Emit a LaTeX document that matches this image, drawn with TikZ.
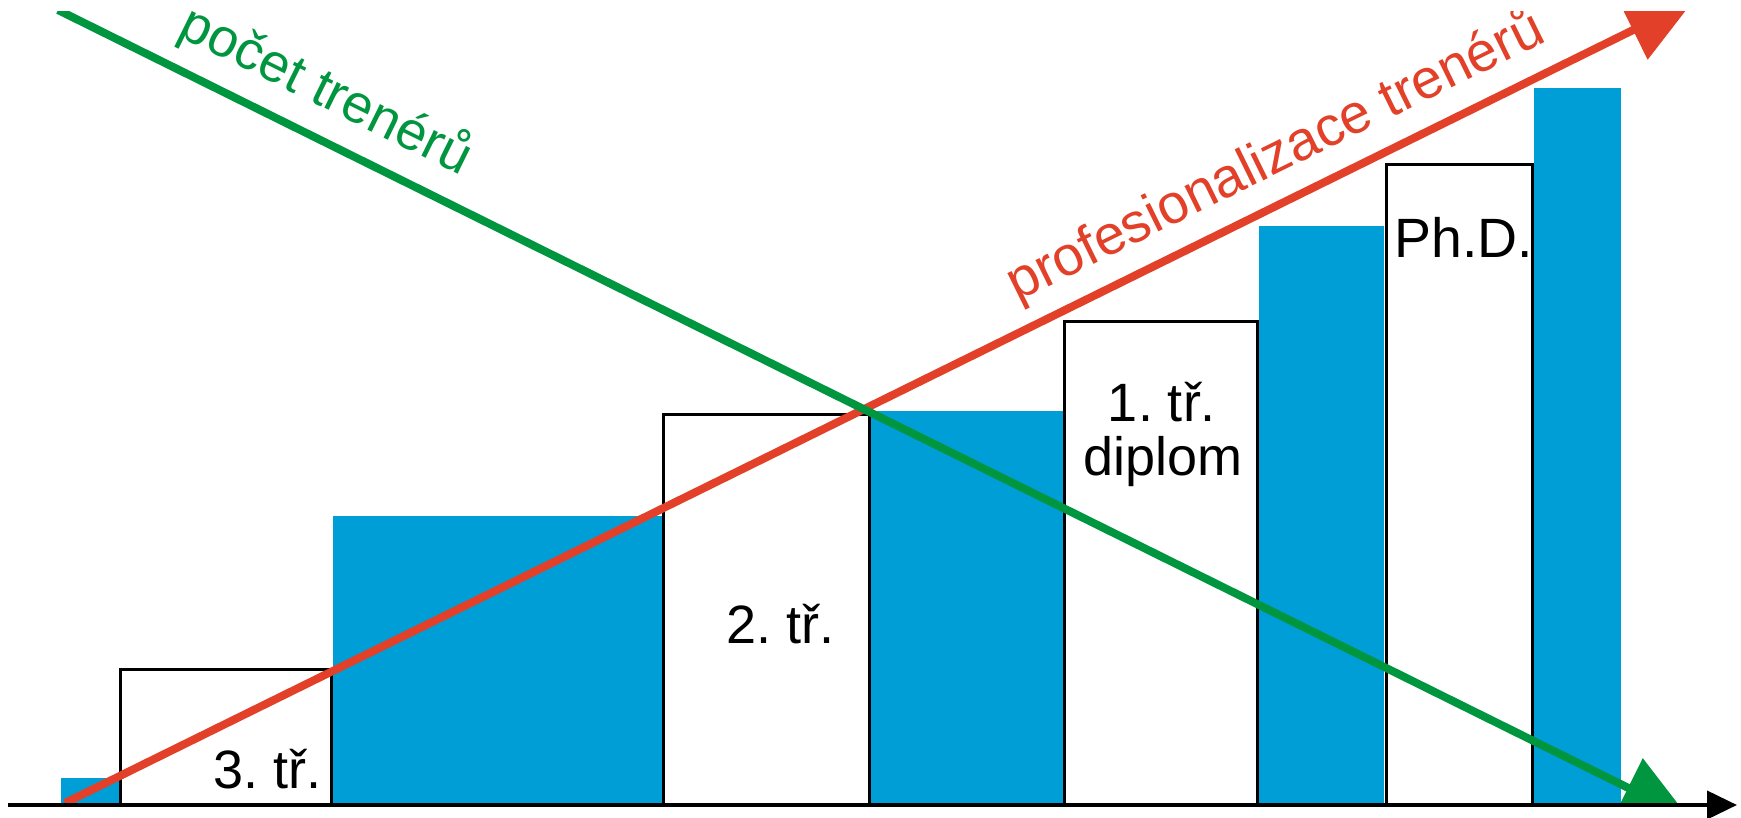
\documentclass[tikz,border=0pt]{standalone}
\usepackage{fontspec}
\setmainfont{Liberation Sans}
\usetikzlibrary{arrows.meta}
\definecolor{barblue}{RGB}{0,158,214}
\definecolor{arrred}{RGB}{226,64,40}
\definecolor{arrgreen}{RGB}{0,150,64}
\frenchspacing
\begin{document}
\begin{tikzpicture}[x=0.5pt,y=-0.5pt,
  bar/.style={fill=barblue, draw=none},
  levelbox/.style={fill=white, draw=black, line width=1.5pt},
  lbl/.style={inner sep=0pt, font=\fontsize{27}{27}\selectfont},
  biglbl/.style={inner sep=0pt, font=\fontsize{27.7}{27.7}\selectfont},
  trend/.style={line width=4pt, -{Triangle[length=34pt,width=32pt]}},
  axisline/.style={line width=2pt, -{Triangle[length=15pt,width=14pt]}}]
\useasboundingbox (0,0) rectangle (1741,818);
\fill[white] (0,0) rectangle (1741,818);
% coordinates
\coordinate (rs) at (65,803);
\coordinate (re) at (1694,0);
\coordinate (gs) at (58,10);
\coordinate (ge) at (1689,818);
\coordinate (ax0) at (8,805);
\coordinate (ax1) at (1737,805);
\begin{scope}
\clip (0,12) rectangle (1741,818);
% blue bars
\path[bar] (61,778) rectangle (120,805);
\path[bar] (333,516) rectangle (663,805);
\path[bar] (871,411) rectangle (1064,805);
\path[bar] (1259,226) rectangle (1384,805);
\path[bar] (1534,88) rectangle (1621,805);
% white level boxes
\draw[levelbox] (120,669) rectangle (331,805);
\draw[levelbox] (663,414) rectangle (869,805);
\draw[levelbox] (1064,322) rectangle (1257,805);
\draw[levelbox] (1386,165) rectangle (1532,805);
% box labels
\node[lbl, anchor=base east] (t3) at (322,788) {3. tř.};
\node[lbl, anchor=base west] (t2) at (726,643) {2. tř.};
\node[lbl, anchor=base] (t1) at (1162,422) {1. tř.};
\node[lbl, anchor=base] (dip) at (1163,475) {diplom};
\node[biglbl, anchor=base west] (phd) at (1394,258) {Ph.D.};
% trend labels
\node[biglbl, text=arrred, rotate=26.2, anchor=base west] (prof) at (1017,302) {profesionalizace trenérů};
\node[lbl, text=arrgreen, rotate=-26.3, anchor=base west] (pocet) at (176,35) {počet trenérů};
% red trend
\draw[trend, arrred] (rs) -- (re);
\end{scope}
% green trend, clipped at the axis
\begin{scope}
\clip (0,12) rectangle (1741,803);
\draw[trend, arrgreen] (gs) -- (ge);
\end{scope}
% axis
\draw[axisline] (ax0) -- (ax1);
\end{tikzpicture}
\end{document}
